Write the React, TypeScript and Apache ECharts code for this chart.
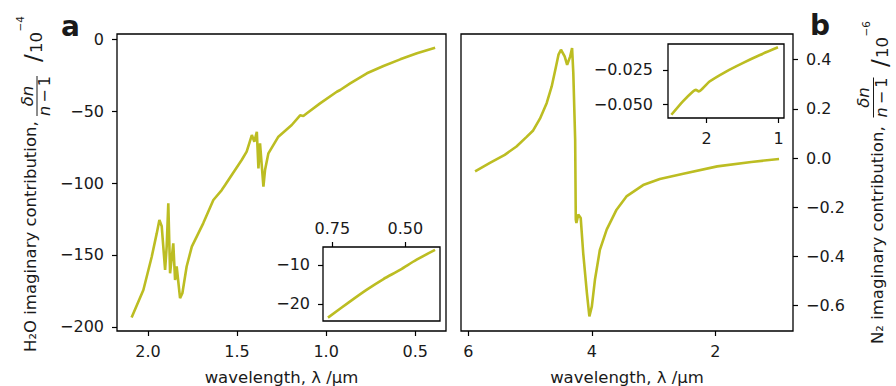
import React, { useEffect, useRef } from "react";
import * as echarts from "echarts";

// Panel a: H2O imaginary contribution (/1e-4) vs wavelength (µm)
const h2oWavelength = [2.092, 2.026, 1.979, 1.951, 1.936, 1.923, 1.904, 1.895, 1.886, 1.876, 1.858, 1.848, 1.839, 1.82, 1.807, 1.783, 1.754, 1.69, 1.633, 1.586, 1.567, 1.474, 1.446, 1.417, 1.403, 1.389, 1.38, 1.371, 1.352, 1.343, 1.324, 1.268, 1.193, 1.146, 1.128, 1.108, 1.034, 0.94, 0.921, 0.865, 0.771, 0.678, 0.584, 0.49, 0.388];
const h2oValue = [-193.5, -174.3, -151.2, -135, -125.7, -130, -160.4, -144, -114.1, -162.7, -141.9, -167.4, -158, -180, -176.6, -158, -144.2, -128, -111.8, -104.9, -101.4, -84, -78.2, -66.7, -71.3, -64.4, -89.8, -72.4, -102.5, -91, -79.4, -67.8, -59.7, -53, -53.5, -51.6, -44.7, -36.6, -35.4, -30.8, -23.8, -18.75, -14.1, -9.9, -6.0];

// Inset a
const h2oInsetWavelength = [0.765, 0.69, 0.633, 0.576, 0.518, 0.461, 0.398];
const h2oInsetValue = [-23.5, -19.4, -16.4, -13.7, -11.3, -8.7, -6.2];

// Panel b: N2 imaginary contribution (/1e-6) vs wavelength (µm)
const n2Wavelength = [5.89, 5.65, 5.41, 5.22, 5.06, 4.95, 4.84, 4.73, 4.65, 4.58, 4.54, 4.50, 4.44, 4.40, 4.35, 4.32, 4.30, 4.27, 4.26, 4.25, 4.22, 4.18, 4.14, 4.08, 4.04, 4.00, 3.95, 3.87, 3.76, 3.60, 3.44, 3.17, 2.90, 2.52, 1.97, 1.42, 0.97];
const n2Value = [-0.054, -0.02, 0.013, 0.047, 0.085, 0.112, 0.16, 0.224, 0.291, 0.372, 0.42, 0.44, 0.413, 0.379, 0.413, 0.447, 0.345, 0.074, -0.25, -0.264, -0.23, -0.244, -0.386, -0.549, -0.644, -0.603, -0.495, -0.373, -0.291, -0.21, -0.156, -0.11, -0.085, -0.064, -0.034, -0.016, -0.004];

// Inset b
const n2InsetWavelength = [2.49, 2.33, 2.19, 2.15, 2.11, 2.05, 1.96, 1.73, 1.50, 1.26, 1.01];
const n2InsetValue = [-0.0578, -0.048, -0.0408, -0.0396, -0.0408, -0.0383, -0.0335, -0.0262, -0.020, -0.0141, -0.0085];

// Tick values
const aXTicks = [0.5, 1.0, 1.5, 2.0];
const aYTicks = [0, -50, -100, -150, -200];
const bXTicks = [2, 4, 6];
const bYTicks = [-0.6, -0.4, -0.2, 0.0, 0.2, 0.4];
const aInsetXTicks = [0.5, 0.75];
const aInsetYTicks = [-20, -10];
const bInsetXTicks = [1, 2];
const bInsetYTicks = [-0.05, -0.025];

const FONT = "DejaVu Sans";
const TEXT = "#1a1a1a";
const LINE = "#bcbd22";

const fmt = (d: number) => (v: number) => {
  const s = v.toFixed(d);
  return s.startsWith("-") ? "\u2212" + s.slice(1) : s;
};

const zip = (xs: number[], ys: number[]) => xs.map((x, i) => [x, ys[i]]);

function axisCommon(ticks: number[], decimals: number, margin: number) {
  return {
    type: "value" as const,
    axisLine: { show: false, onZero: false },
    splitLine: { show: false },
    axisTick: {
      show: true,
      length: 5,
      customValues: ticks,
      lineStyle: { color: "#000", width: 1.2 },
    },
    axisLabel: {
      show: true,
      customValues: ticks,
      formatter: fmt(decimals),
      fontFamily: FONT,
      fontSize: 16,
      color: TEXT,
      margin,
    },
  };
}

function txt(text: string, x: number, y: number, size: number, extra: any = {}) {
  return {
    type: "text",
    x,
    y,
    style: {
      text,
      fontFamily: FONT,
      fontSize: size,
      fill: TEXT,
      align: extra.align || "left",
      textAlign: extra.align || "left",
      verticalAlign: "middle",
      textVerticalAlign: "middle",
      fontStyle: extra.fontStyle || "normal",
      fontWeight: extra.fontWeight || "normal",
      rich: extra.rich,
    },
  };
}

function yLabel(x0: number, y0: number, main: string, fracU: number, fracV: number, slashU: number, sup: string) {
  return {
    type: "group",
    x: x0,
    y: y0,
    rotation: Math.PI / 2,
    children: [
      txt(main, 0, 0, 16.5),
      txt("\u03B4n", fracU, fracV - 3.5, 16.5, { align: "center", fontStyle: "italic" }),
      {
        type: "line",
        shape: { x1: fracU - 20, y1: fracV + 6.5, x2: fracU + 20, y2: fracV + 6.5 },
        style: { stroke: TEXT, lineWidth: 1 },
      },
      txt("{i|n}\u2009\u2212\u20091", fracU, fracV + 14, 16, {
        align: "center",
        rich: { i: { fontStyle: "italic", fontFamily: FONT, fontSize: 16, fill: TEXT } },
      }),
      txt("/", slashU, 2.5, 23),
      txt("10", slashU + 9, 5.5, 16.5),
      txt("\u2212" + sup, slashU + 30.5, -11, 10.5),
    ],
  };
}

export default function App() {
  const ref = useRef<HTMLDivElement>(null);
  useEffect(() => {
    if (!ref.current) return;
    const chart = echarts.init(ref.current, undefined, { renderer: "svg" });
    const gridStyle = { show: true, borderColor: "#000", borderWidth: 1.3, backgroundColor: "#fff", containLabel: false };
    chart.setOption({
      animation: false,
      backgroundColor: "#fff",
      grid: [
        { ...gridStyle, left: 117, top: 34, width: 329, height: 297 },
        { ...gridStyle, left: 461, top: 34, width: 332, height: 297 },
        { ...gridStyle, left: 323, top: 247, width: 117, height: 74, z: 3 },
        { ...gridStyle, left: 668, top: 44, width: 116, height: 74, z: 3 },
      ],
      xAxis: [
        { ...axisCommon(aXTicks, 1, 12), gridIndex: 0, min: 0.327, max: 2.174, inverse: true, position: "bottom" },
        { ...axisCommon(bXTicks, 0, 12), gridIndex: 1, min: 0.744, max: 6.118, inverse: true, position: "bottom" },
        { ...axisCommon(aInsetXTicks, 2, 11), gridIndex: 2, min: 0.381, max: 0.782, inverse: true, position: "top", z: 4 },
        { ...axisCommon(bInsetXTicks, 0, 12), gridIndex: 3, min: 0.926, max: 2.537, inverse: true, position: "bottom", z: 4 },
      ],
      yAxis: [
        { ...axisCommon(aYTicks, 0, 13), gridIndex: 0, min: -202.8, max: 3.5, position: "left" },
        { ...axisCommon(bYTicks, 1, 13), gridIndex: 1, min: -0.703, max: 0.504, position: "right" },
        { ...axisCommon(aInsetYTicks, 0, 13), gridIndex: 2, min: -24.36, max: -5.46, position: "left", z: 4 },
        { ...axisCommon(bInsetYTicks, 3, 15), gridIndex: 3, min: -0.0602, max: -0.00607, position: "left", z: 4 },
      ],
      series: [
        { type: "line", xAxisIndex: 0, yAxisIndex: 0, data: zip(h2oWavelength, h2oValue) },
        { type: "line", xAxisIndex: 1, yAxisIndex: 1, data: zip(n2Wavelength, n2Value) },
        { type: "line", xAxisIndex: 2, yAxisIndex: 2, data: zip(h2oInsetWavelength, h2oInsetValue), z: 5, smooth: 0.3 },
        { type: "line", xAxisIndex: 3, yAxisIndex: 3, data: zip(n2InsetWavelength, n2InsetValue), z: 5, smooth: 0.2 },
      ].map((s) => ({
        ...s,
        showSymbol: false,
        symbol: "none",
        lineStyle: { color: LINE, width: 2.6 },
        itemStyle: { color: LINE },
        silent: true,
      })),
      graphic: [
        txt("a", 61, 26, 28, { fontWeight: "bold" }),
        txt("b", 810, 25, 28, { fontWeight: "bold" }),
        txt("wavelength, \u03BB /\u03BCm", 281.5, 377, 16.5, { align: "center" }),
        txt("wavelength, \u03BB /\u03BCm", 627, 377, 16.5, { align: "center" }),
        yLabel(30.5, 352, "H\u2082O imaginary contribution,", 256, 0, 290, "4"),
        yLabel(877, 344, "N\u2082 imaginary contribution,", 246.5, -10, 277, "6"),
      ],
    });
    return () => chart.dispose();
  }, []);
  return <div ref={ref} style={{ position: "fixed", left: 0, top: 0, width: 896, height: 386 }} />;
}
